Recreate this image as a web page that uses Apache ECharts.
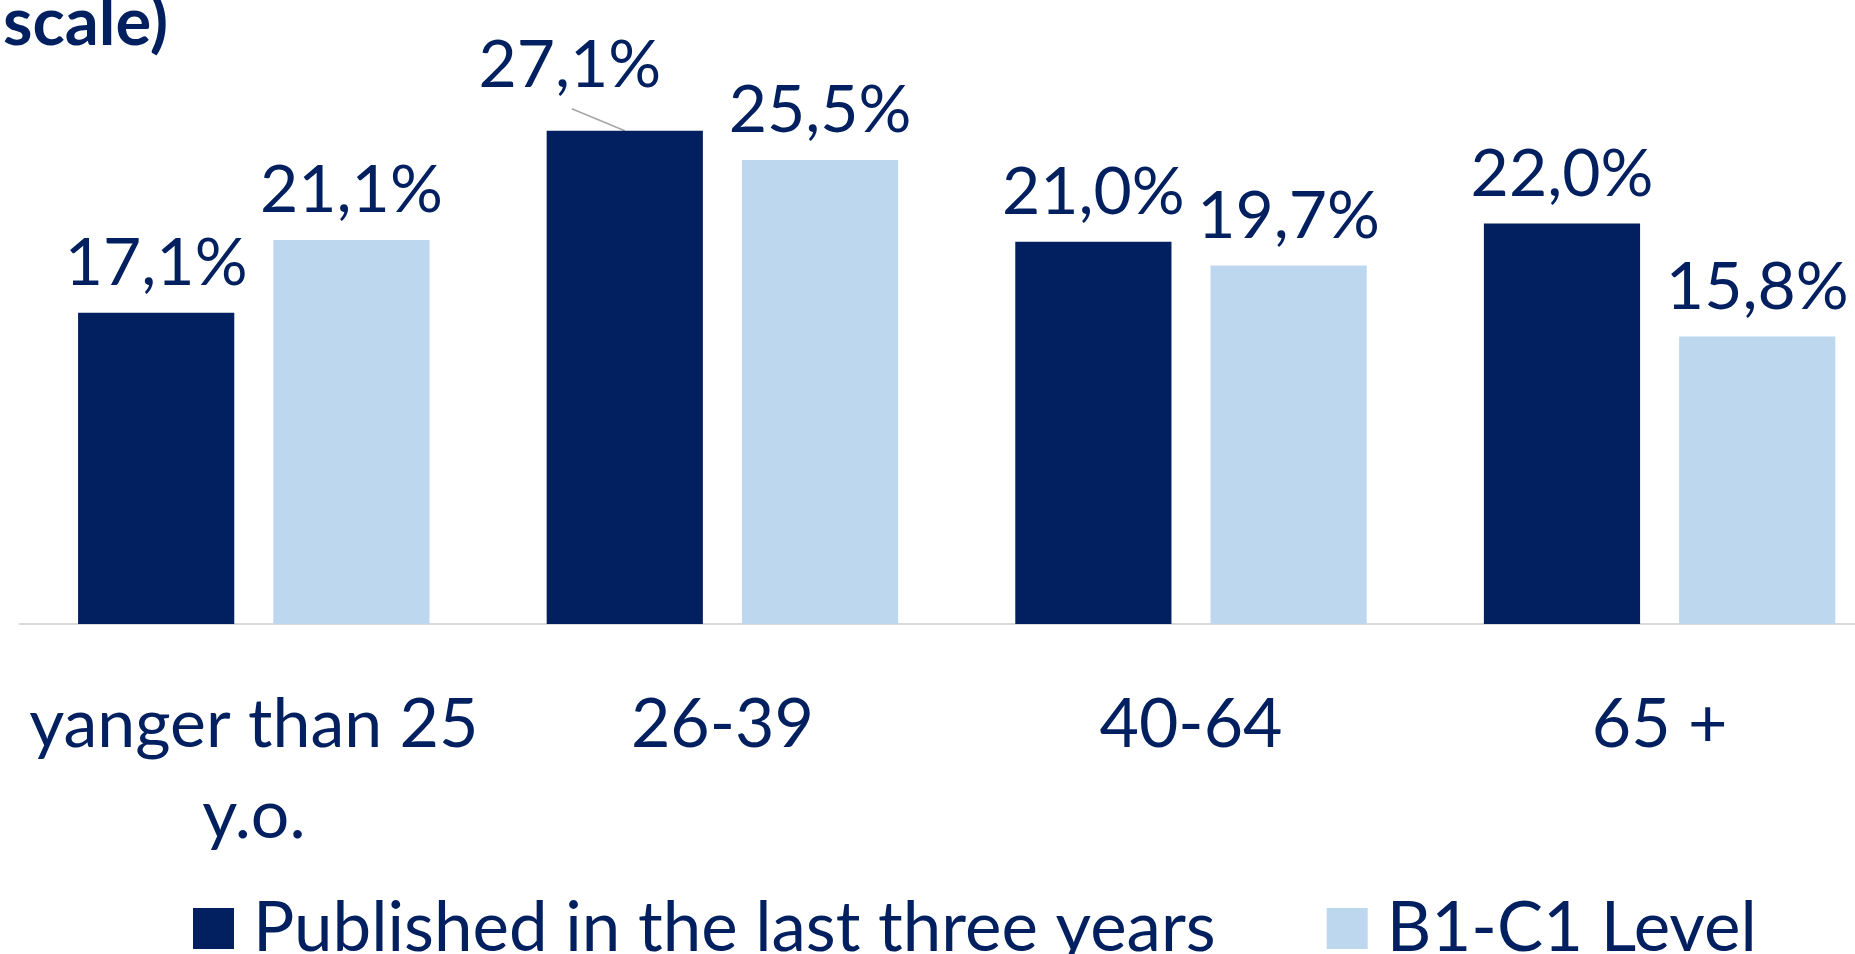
<!DOCTYPE html>
<html>
<head>
    <meta charset="utf-8">
    <title>ECharts</title>
    <script src="https://cdn.jsdelivr.net/npm/echarts@6/dist/echarts.min.js"></script>
    <style>
        html, body { margin: 0; padding: 0; background: #fff; }
    </style>
</head>
<body>
<div id="main" style="width: 1855px;height:954px;"></div>
<script type="text/javascript">
    // data
    var categories = ['yanger than 25\ny.o.', '26-39', '40-64', '65 +'];
    var seriesNames = ['Published in the last three years', 'B1-C1 Level'];
    var published = [17.1, 27.1, 21.0, 22.0];
    var levelB1C1 = [21.1, 25.5, 19.7, 15.8];

    var navy = '#02205F';
    var lightBlue = '#BDD7EE';
    var font = 'Lato';

    function fmt(p) {
        return p.value.toFixed(1).replace('.', ',') + '%';
    }

    var myChart = echarts.init(document.getElementById('main'));

    var labelStyle = {
        show: true,
        position: 'top',
        distance: 16,
        formatter: fmt,
        color: navy,
        fontFamily: font,
        fontSize: 66,
        lineHeight: 66
    };

    var option = {
        animation: false,
        title: {
            text: 'scale)',
            left: -2,
            top: -15,
            textStyle: {
                color: navy,
                fontFamily: font,
                fontWeight: 'bold',
                fontSize: 67,
                lineHeight: 67
            }
        },
        legend: {
            data: seriesNames,
            left: 193,
            top: 894,
            padding: 0,
            itemWidth: 41,
            itemHeight: 41,
            itemGap: 111,
            icon: 'rect',
            textStyle: {
                color: navy,
                fontFamily: font,
                fontSize: 69,
                padding: [0, 0, 0, 14]
            }
        },
        grid: {
            left: 19.5,
            width: 1874.4,
            top: 78,
            height: 546,
            outerBoundsMode: 'none',
            containLabel: false
        },
        xAxis: [
            {
                type: 'category',
                data: categories,
                axisLine: { show: true, lineStyle: { color: '#D9D9D9', width: 2 } },
                axisTick: { show: false },
                axisLabel: {
                    interval: 0,
                    margin: 56,
                    color: navy,
                    fontFamily: font,
                    fontSize: 68,
                    lineHeight: 91
                }
            }
        ],
        yAxis: [
            {
                type: 'value',
                min: 0,
                max: 30,
                show: false,
                splitLine: { show: false }
            }
        ],
        labelLayout: function (params) {
            if (params.seriesIndex == 0 && params.dataIndex == 1) {
                return { dx: -55, dy: -16 };
            }
        },
        series: [
            {
                name: seriesNames[0],
                type: 'bar',
                data: published,
                barGap: '25%',
                barCategoryGap: '25%',
                itemStyle: { color: navy },
                label: labelStyle
            },
            {
                name: seriesNames[1],
                type: 'bar',
                data: levelB1C1,
                itemStyle: { color: lightBlue },
                label: labelStyle
            }
        ]
    };

    myChart.setOption(option);

    // leader line of the moved 27,1% label, taken from the bar's own layout
    (function () {
        var lay = myChart.getModel().getSeriesByIndex(0).getData().getItemLayout(1);
        if (!lay) return;
        var cx = lay.x + lay.width / 2;
        var barTop = Math.min(lay.y, lay.y + lay.height);
        myChart.setOption({
            graphic: [{
                type: 'line',
                shape: { x1: cx - 53, y1: barTop - 22, x2: cx, y2: barTop },
                style: { stroke: '#A6A6A6', lineWidth: 1.5 }
            }]
        });
    })();
</script>
</body>
</html>
